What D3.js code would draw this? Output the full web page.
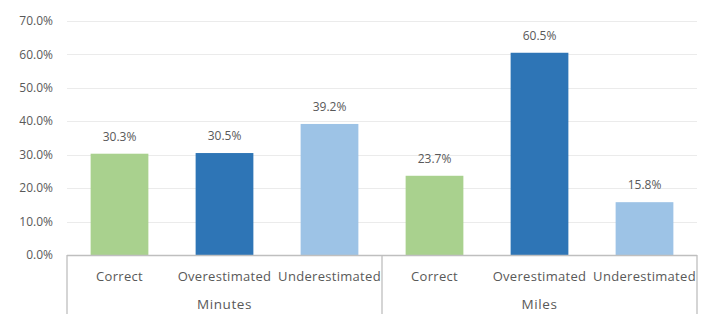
<!DOCTYPE html>
<html><head><meta charset="utf-8">
<script src="https://cdn.jsdelivr.net/npm/d3@7"></script>
<style>body{margin:0;background:#fff}svg{display:block}text{font-family:"Open Sans",sans-serif;fill:#595959}</style>
</head><body><svg id="c" width="704" height="314"></svg>
<script>
const groups = ["Minutes", "Miles"];
const categories = ["Correct", "Overestimated", "Underestimated"];
const values = [[30.3, 30.5, 39.2], [23.7, 60.5, 15.8]];
const colors = ["#A9D18E", "#2E75B6", "#9DC3E6"];
const yTicks = [0, 10, 20, 30, 40, 50, 60, 70];

(function () {
const svg = d3.select("#c");
const pl = 67, pr = 697, pt = 21, pb = 255;
const y = d3.scaleLinear().domain([0, 70]).range([pb, pt]);
const gx = d3.scaleBand().domain(groups).range([pl, pr]);
const cx = d3.scaleBand().domain(categories).range([0, gx.bandwidth()]).paddingInner(0.45).paddingOuter(0.225);

svg.append("g").selectAll("line").data(yTicks.slice(1)).join("line")
  .attr("x1", pl).attr("x2", pr)
  .attr("y1", d => Math.round(y(d)) + 0.5).attr("y2", d => Math.round(y(d)) + 0.5)
  .attr("stroke", "#EBEBEB").attr("stroke-width", 1);

svg.append("g").selectAll("text").data(yTicks).join("text")
  .attr("x", 53).attr("y", d => y(d)).attr("dy", "0.35em")
  .attr("text-anchor", "end").attr("font-size", 12)
  .text(d => d.toFixed(1) + "%");

const rows = [];
groups.forEach((g, gi) => categories.forEach((c, ci) => rows.push({g, c, v: values[gi][ci], color: colors[ci]})));
svg.append("g").selectAll("rect").data(rows).join("rect")
  .attr("x", d => gx(d.g) + cx(d.c)).attr("width", cx.bandwidth())
  .attr("y", d => y(d.v)).attr("height", d => pb - y(d.v))
  .attr("fill", d => d.color);

svg.append("g").selectAll("text").data(rows).join("text")
  .attr("x", d => gx(d.g) + cx(d.c) + cx.bandwidth() / 2)
  .attr("y", d => y(d.v) - 13)
  .attr("text-anchor", "middle").attr("font-size", 12)
  .text(d => d.v.toFixed(1) + "%");

const ax = svg.append("g").attr("stroke", "#BFBFBF").attr("stroke-width", 1.3);
ax.append("line").attr("x1", pl).attr("x2", pr).attr("y1", pb + 0.5).attr("y2", pb + 0.5);
[pl, gx("Miles"), pr].forEach(x => {
  ax.append("line").attr("x1", x).attr("x2", x).attr("y1", pb).attr("y2", 314);
});

svg.append("g").selectAll("text").data(rows).join("text")
  .attr("x", d => gx(d.g) + cx(d.c) + cx.bandwidth() / 2)
  .attr("y", 276).attr("dy", "0.35em")
  .attr("text-anchor", "middle").attr("font-size", 13).attr("letter-spacing", 0.3)
  .text(d => d.c);

svg.append("g").selectAll("text").data(groups).join("text")
  .attr("x", d => gx(d) + gx.bandwidth() / 2)
  .attr("y", 309)
  .attr("text-anchor", "middle").attr("font-size", 13.5).attr("letter-spacing", 0.6)
  .text(d => d);
})();
</script></body></html>
